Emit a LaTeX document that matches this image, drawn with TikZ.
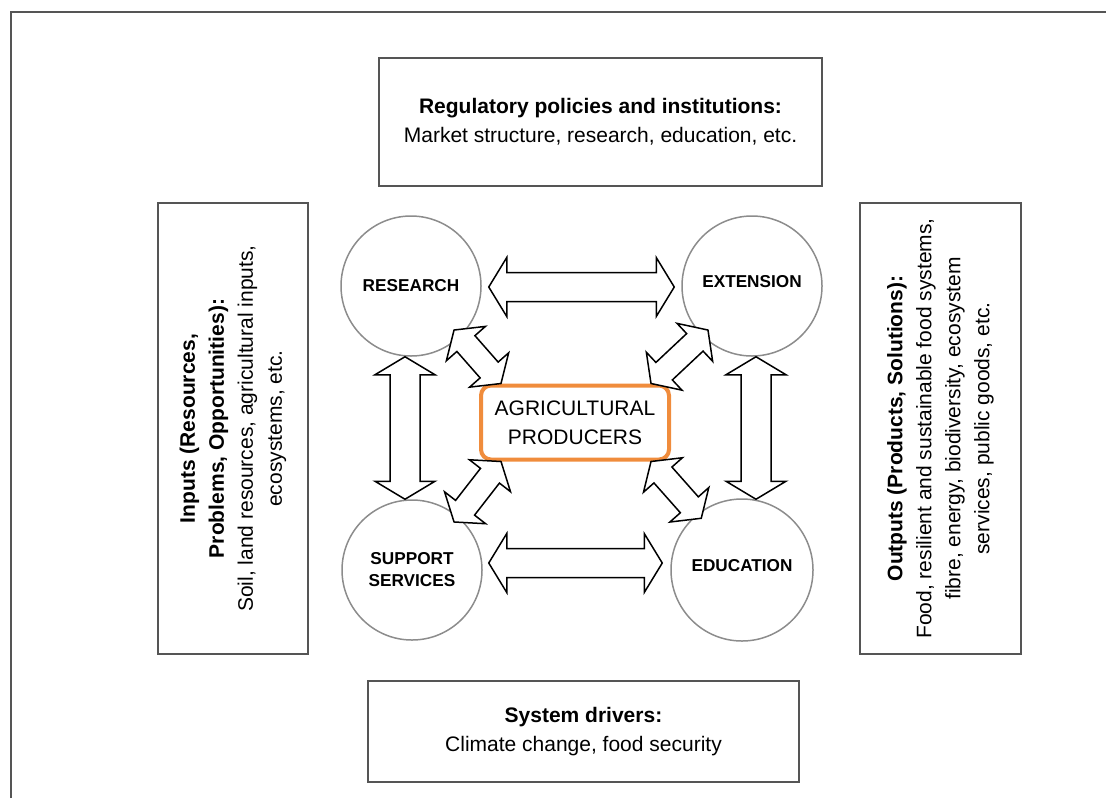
\documentclass[tikz,border=0pt]{standalone}
\usepackage{fontspec}
\setmainfont{Liberation Sans}
\usetikzlibrary{calc}

\definecolor{boxgray}{RGB}{85,85,85}
\definecolor{circgray}{RGB}{140,140,140}
\definecolor{prodorange}{RGB}{240,140,60}

% block double arrow: head length, head half width, shaft half width, from, to
\newcommand{\dblarrow}[5]{%
\path (#4) coordinate (a1) (#5) coordinate (a2);
\draw[black,line width=.75pt,fill=white,line join=miter] (a1)
  -- ($(a1)!#1!(a2)!#2!90:(a2)$) -- ($(a1)!#1!(a2)!#3!90:(a2)$)
  -- ($(a2)!#1!(a1)!#3!-90:(a1)$) -- ($(a2)!#1!(a1)!#2!-90:(a1)$)
  -- (a2)
  -- ($(a2)!#1!(a1)!#2!90:(a1)$) -- ($(a2)!#1!(a1)!#3!90:(a1)$)
  -- ($(a1)!#1!(a2)!#3!-90:(a2)$) -- ($(a1)!#1!(a2)!#2!-90:(a2)$)
  -- cycle;}

\begin{document}
\begin{tikzpicture}[x=0.5pt,y=-0.5pt,
  infobox/.style={draw=boxgray,line width=1pt,align=center,inner sep=0pt,
    font=\fontsize{10.5}{14.5}\selectfont},
  actor/.style={circle,draw=circgray,line width=.75pt,minimum size=70pt,inner sep=0pt,
    align=center,font=\fontsize{8.6}{11}\selectfont\bfseries},
  producer/.style={draw=prodorange,line width=2pt,rounded corners=5pt,fill=white,
    minimum width=94pt,minimum height=37pt,align=center,
    font=\fontsize{10.5}{14.5}\selectfont}]
\useasboundingbox (0,0) rectangle (1106,798);
\draw[boxgray,line width=1pt] (11,798) -- (11,12) -- (1106,12);

% outer boxes
\node[infobox,minimum width=221.5pt,minimum height=64pt](policy) at (600.5,122)
  {\textbf{Regulatory policies and institutions:}\\Market structure, research, education, etc.};
\node[infobox,minimum width=215.5pt,minimum height=50.5pt](drivers) at (583.5,731.5)
  {\textbf{System drivers:}\\Climate change, food security};
\node[infobox,rotate=90,minimum width=225.5pt,minimum height=75pt](inputs) at (233,428.5)
  {\textbf{Inputs (Resources,}\\\textbf{Problems, Opportunities):}\\Soil, land resources, agricultural inputs,\\ecosystems, etc.};
\node[infobox,rotate=90,minimum width=225.5pt,minimum height=80.5pt](outputs) at (940.5,428.5)
  {\textbf{Outputs (Products, Solutions):}\\Food, resilient and sustainable food systems,\\fibre, energy, biodiversity, ecosystem\\services, public goods, etc.};

% actors
\node[actor](research) at (411,286) {RESEARCH};
\node[actor](extension) at (752,286) {\raisebox{5pt}{EXTENSION}};
\node[actor](support) at (412,570) {SUPPORT\\SERVICES};
\node[actor,minimum size=71pt](education) at (742,570) {\raisebox{5pt}{EDUCATION}};
\node[producer](farmers) at (575,422.5) {AGRICULTURAL\\PRODUCERS};

% links
\dblarrow{9pt}{14.75pt}{7.25pt}{[shift={(7,1)}]research.east}{[shift={(-7,1)}]extension.west}
\dblarrow{9pt}{14.75pt}{7.25pt}{[shift={(6,-7)}]support.east}{[shift={(-8,-7)}]education.west}
\dblarrow{9pt}{15pt}{7.5pt}{[shift={(-6,0)}]research.south}{[shift={(-7,0)}]support.north}
\dblarrow{9pt}{15pt}{7.5pt}{[shift={(4,0)}]extension.south}{[shift={(14,1)}]education.north}
\dblarrow{9pt}{13pt}{6pt}{[shift={(-7,-6)}]research.-45}{[shift={(22,0)}]farmers.north west}
\dblarrow{9pt}{13pt}{6pt}{[shift={(6,-6)}]extension.-135}{[shift={(-20,0)}]farmers.north east}
\dblarrow{9pt}{13pt}{6pt}{[shift={(-8,2)}]support.45}{[shift={(22,0)}]farmers.south west}
\dblarrow{9pt}{13pt}{6pt}{[shift={(10,-1)}]education.135}{[shift={(-20,0)}]farmers.south east}
\end{tikzpicture}
\end{document}
